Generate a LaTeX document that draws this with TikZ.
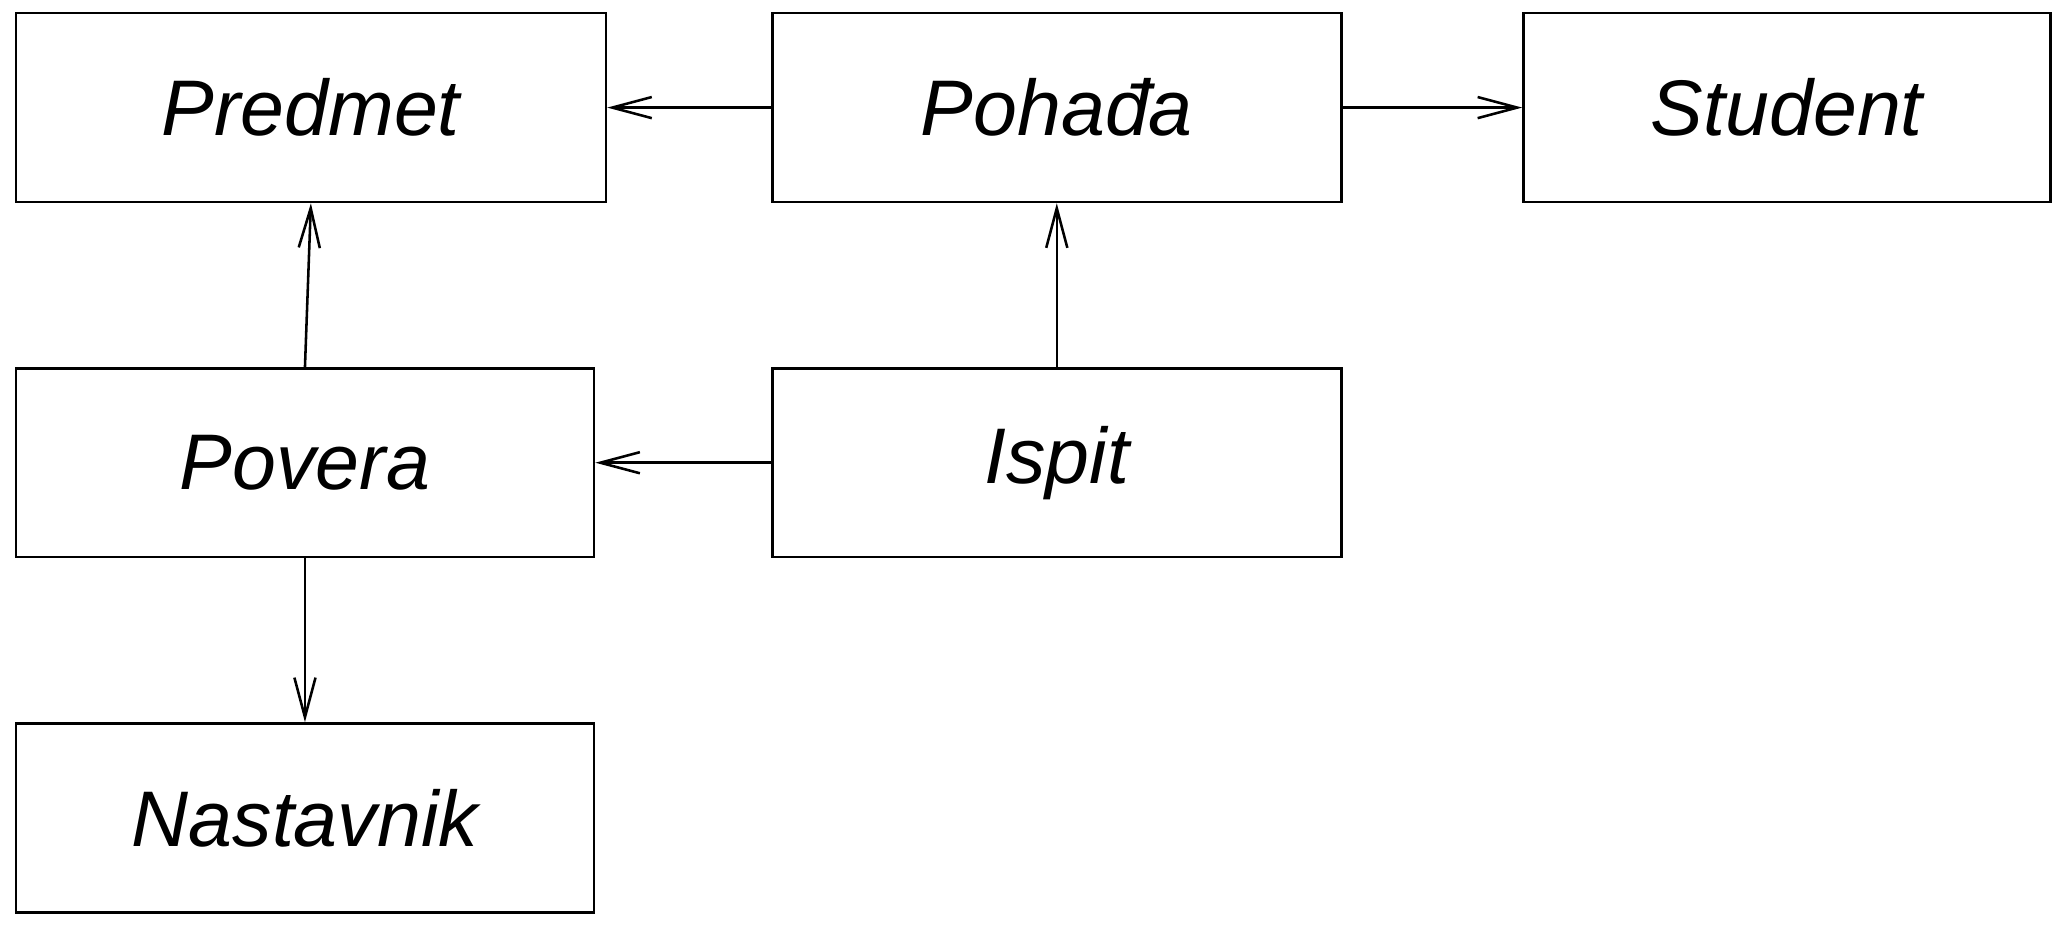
\documentclass[tikz,border=0pt]{standalone}
\usepackage{fontspec}
\setmainfont{Liberation Sans}
\usetikzlibrary{positioning,arrows.meta}

\begin{document}
\begin{tikzpicture}[entity/.style={rectangle,draw=black,line width=1.1pt,minimum height=2.86cm,font=\fontsize{34}{37}\selectfont\itshape},
	assoc/.style={line width=1.1pt,-{Straight Barb[length=0.6cm,width=0.32cm]}}]
		\useasboundingbox (0,0) rectangle (31.36,-14.12);
		\node[entity,minimum width=8.94cm] (predmet) at (4.71,-1.63) {Predmet};
		\node[entity,minimum width=8.62cm] (pohadja) at (16.01,-1.63) {Pohađa};
		\node[entity,minimum width=7.98cm] (student) at (27.07,-1.63) {Student};
		\node[entity,minimum width=8.76cm] (povera) at (4.62,-7.01) {Povera};
		\node[entity,minimum width=8.62cm] (ispit) at (16.01,-7.01) {Ispit};
		\node[entity,minimum width=8.76cm] (nastavnik) at (4.62,-12.39) {Nastavnik};
		\draw[assoc] (pohadja) -- (predmet);
		\draw[assoc] (pohadja) -- (student);
		\draw[assoc] (povera.north) -- (predmet.south);
		\draw[assoc] (ispit) -- (pohadja);
		\draw[assoc] (ispit) -- (povera);
		\draw[assoc] (povera) -- (nastavnik);
	\end{tikzpicture}
\end{document}
